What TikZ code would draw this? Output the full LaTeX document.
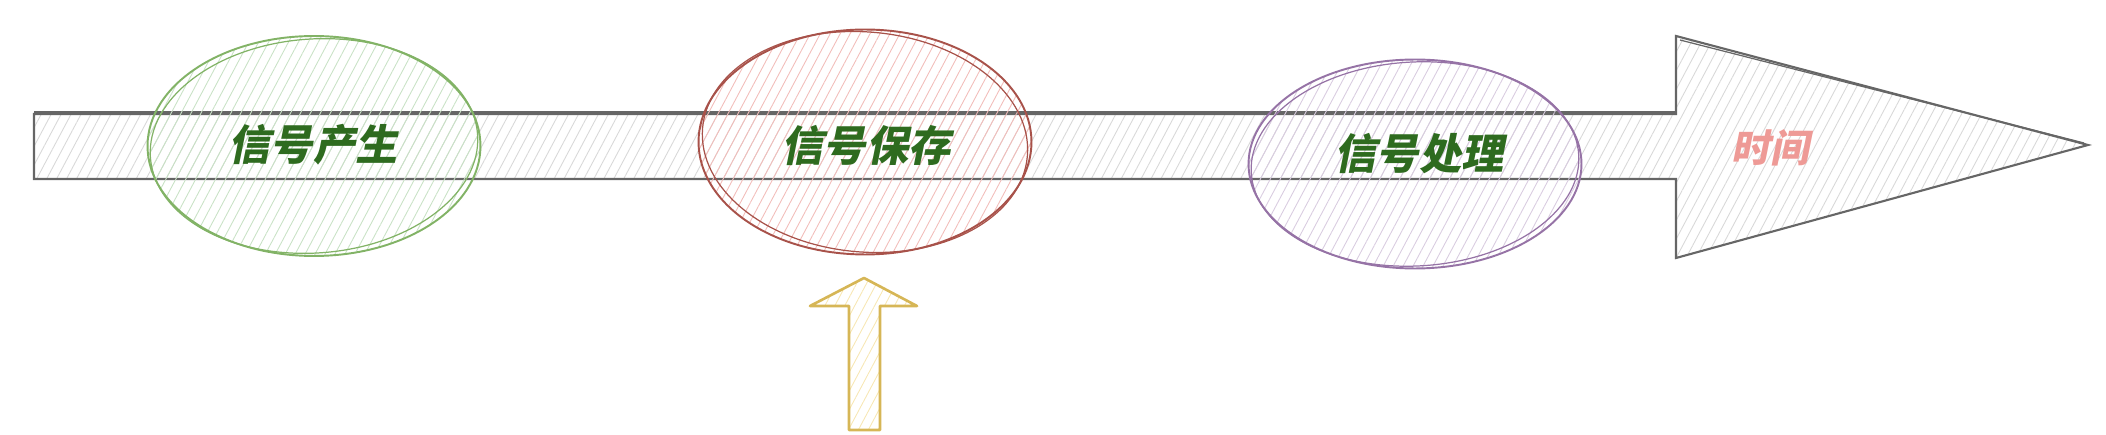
\documentclass[tikz,border=0pt]{standalone}
\usepackage{fontspec}
\newfontfamily\cjk[FakeSlant=0.2]{Noto Sans CJK SC}
\usetikzlibrary{shapes.geometric,patterns.meta}
\definecolor{axisgray}{HTML}{666666}
\definecolor{axisfill}{HTML}{D8D8D8}
\definecolor{genline}{HTML}{82B366}
\definecolor{genfill}{HTML}{C9E2C6}
\definecolor{saveline}{HTML}{A8524A}
\definecolor{savefill}{HTML}{F2BDBA}
\definecolor{procline}{HTML}{9673A6}
\definecolor{procfill}{HTML}{D9CCE0}
\definecolor{inline}{HTML}{D6B656}
\definecolor{infill}{HTML}{F7E7B4}
\definecolor{labelgreen}{HTML}{2E6B1F}
\definecolor{timepink}{HTML}{EE9A96}
\begin{document}
\begin{tikzpicture}[x=0.02cm,y=-0.02cm,
hatch/.style={pattern={Lines[angle=62,distance=5pt,line width=0.5pt]}, pattern color=#1},
stage/.style={draw=#1, ellipse, line width=1.1pt, minimum width=6.66cm, inner sep=0pt},
stagetext/.style={font=\cjk\bfseries\fontsize{24}{28}\selectfont, text=labelgreen},
sketch/.style={draw=#1, line width=0.7pt}
]
\useasboundingbox (0,0) rectangle (2106,435);
% time axis
\draw[axisgray, line width=1.2pt, hatch=axisfill, line join=miter]
  (34,114) -- (1676,114) -- (1676,36) -- (2088,145) -- (1676,258)
  -- (1676,179) -- (34,179) -- cycle;
\draw[sketch=axisgray] (34,112) -- (1676,112);
\draw[sketch=axisgray] (1680,40) -- (2084,143);
% stages
\node[stage=genline, hatch=genfill, minimum height=4.4cm] (gen) at (314,146) {};
\draw[sketch=genline, rotate around={4:(gen.center)}] (gen.center) ellipse [x radius=164, y radius=107];
\node[stage=saveline, hatch=savefill, minimum height=4.5cm] (save) at (865,142) {};
\draw[sketch=saveline, rotate around={-5:(save.center)}] (save.center) ellipse [x radius=163, y radius=110];
\node[stage=procline, hatch=procfill, minimum height=4.18cm] (proc) at (1415,164) {};
\draw[sketch=procline, rotate around={3:(proc.center)}] (proc.center) ellipse [x radius=164, y radius=102];
\node[stagetext] (gentext) at (313,145) {信号产生};
\node[stagetext] (savetext) at (866,145) {信号保存};
\node[stagetext] (proctext) at (1419,154) {信号处理};
\node[font=\cjk\bfseries\fontsize{22}{26}\selectfont, text=timepink] (time) at (1770,148) {时间};
% input arrow
\draw[inline, line width=1.5pt, hatch=infill, line join=round]
  (849,430) -- (849,306) -- (810,306) -- (864,278) -- (917,306)
  -- (880,306) -- (880,430) -- cycle;
\end{tikzpicture}
\end{document}
